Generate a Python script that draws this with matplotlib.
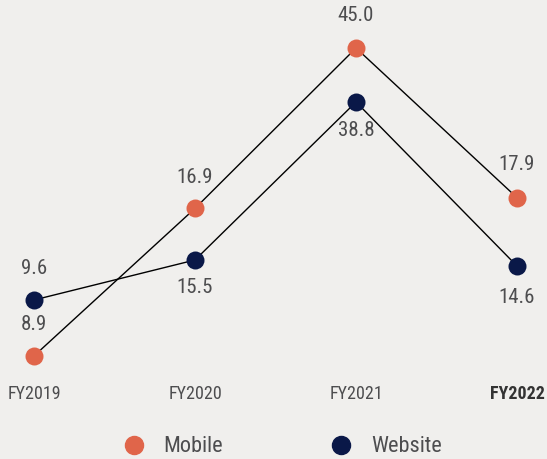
import numpy as np
import matplotlib.pyplot as plt
import matplotlib.transforms as mtransforms
from matplotlib.lines import Line2D

# data
years = ["FY2019", "FY2020", "FY2021", "FY2022"]
mobile = [8.9, 16.9, 45.0, 17.9]
website = [9.6, 15.5, 38.8, 14.6]

# label offsets in pixels (above / below the marker)
mobile_off = [31, 31, 33, 33]
website_off = [31, -28, -29, -31]

bg = "#f0efed"
c_mobile = "#e0654a"
c_website = "#0a1848"
txt = "#4d4d4f"
fam = ["Roboto Condensed", "DejaVu Sans"]

fig = plt.figure(figsize=(5.47, 4.59), dpi=100, facecolor=bg)
ax = fig.add_axes([0, 0, 1, 1])
ax.set_facecolor(bg)
ax2 = ax.twinx()

# the source graphic is not drawn to one scale: mobile is compressed, website is linear
ax.set_yscale("function", functions=(lambda v: np.log(np.maximum(v - 5, 1e-9)),
                                     lambda u: np.exp(u) + 5))
ax.set_ylim(6.79, 62.5)
ax2.set_ylim(-13.85, 53.84)

x = list(range(len(years)))
for a, vals, col, offs in [
    (ax, mobile, c_mobile, mobile_off),
    (ax2, website, c_website, website_off),
]:
    a.plot(x, vals, color="black", lw=1.0, zorder=1)
    a.scatter(x, vals, s=168, color=col, zorder=3, linewidths=0)
    for i in x:
        a.annotate(f"{vals[i]:.1f}", (i, vals[i]), xytext=(0, offs[i]),
                   textcoords="offset pixels", ha="center", va="center",
                   fontsize=15, color=txt, family=fam)
    a.set_xlim(-0.211, 3.186)
    a.axis("off")

trans = mtransforms.blended_transform_factory(ax.transData, ax.transAxes)
for i, yr in enumerate(years):
    ax.text(i, 1 - 394 / 459, yr, transform=trans, ha="center", va="center",
            fontsize=13, color="#333333" if i == 3 else txt, family=fam,
            fontweight="bold" if i == 3 else "normal")

handles = [
    Line2D([], [], marker="o", ls="", markersize=13, color=c_mobile, label="Mobile"),
    Line2D([], [], marker="o", ls="", markersize=13, color=c_website, label="Website"),
]
leg = fig.legend(handles=handles, loc="center", bbox_to_anchor=(0.5156, 1 - 447 / 459),
                 ncol=2, frameon=False, columnspacing=4.8, handlelength=1.0,
                 handletextpad=0.85, prop={"family": fam, "size": 16})
for t in leg.get_texts():
    t.set_color(txt)

fig.savefig("out.png", dpi=100, facecolor=bg)
